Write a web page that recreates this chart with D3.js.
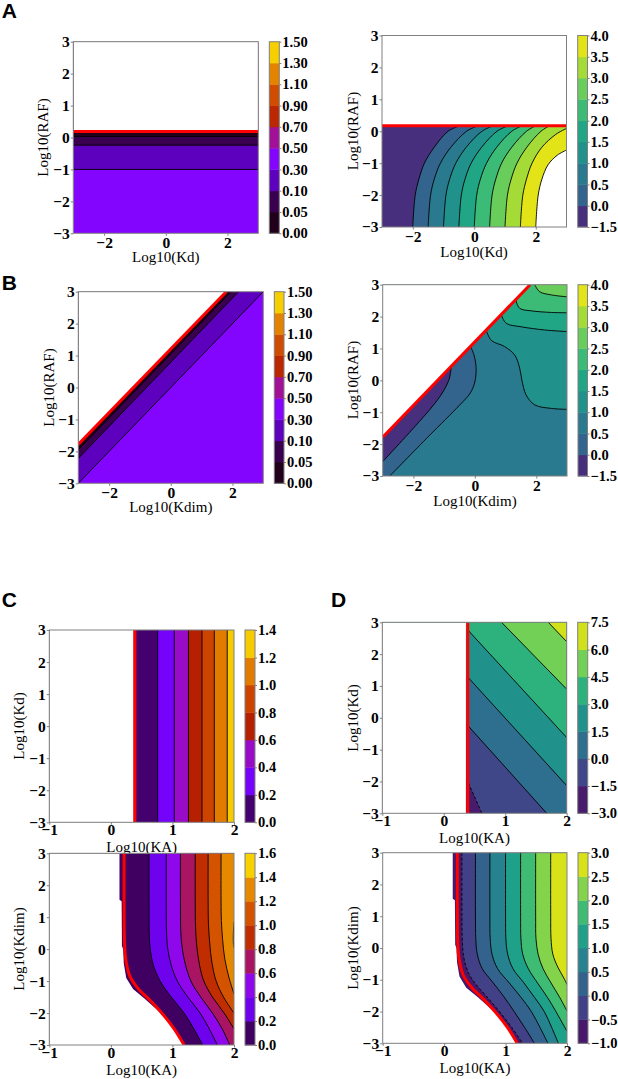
<!DOCTYPE html>
<html><head><meta charset="utf-8">
<script src="https://cdn.jsdelivr.net/npm/d3@7"></script>
<style>body{margin:0;background:#fff}</style>
</head><body><script>
// ================= DATA =================
// contour levels (also colorbar tick labels)
const levelsGnuA = [0.00,0.05,0.10,0.30,0.50,0.70,0.90,1.10,1.30,1.50];
const levelsVirA = [-1.5,0.0,0.5,1.0,1.5,2.0,2.5,3.0,3.5,4.0];
const levelsGnuC1 = [0.0,0.2,0.4,0.6,0.8,1.0,1.2,1.4];
const levelsGnuC2 = [0.0,0.2,0.4,0.6,0.8,1.0,1.2,1.4,1.6];
const levelsVirD1 = [-3.0,-1.5,0.0,1.5,3.0,4.5,6.0,7.5];
const levelsVirD2 = [-1.0,-0.5,0.0,0.5,1.0,1.5,2.0,2.5,3.0];
// axis ticks
const ticksLog = [-3,-2,-1,0,1,2,3];
const ticksKdX = [-2,0,2];
const ticksKA = [-1,0,1,2];

// ---- Panel A left: Log10(Kd) x Log10(RAF), horizontal contours (levels 0.30, 0.10, 0.05)
const aLeftLines = [ [[-3,-1.0],[3,-1.0]], [[-3,-0.24],[3,-0.24]], [[-3,0.03],[3,0.03]] ];
const aLeftRed = [[-3,0.19],[3,0.19]];

// ---- Panel A right: contour lines of levels 0.0 ... 4.0
const aRightLines = [
 [[-2.0,-3],[-1.92,-2],[-1.8,-1.5],[-1.62,-1],[-1.3,-0.5],[-0.85,0],[-0.47,0.17]],
 [[-1.5,-3],[-1.42,-2],[-1.3,-1.5],[-1.1,-1],[-0.76,-0.5],[-0.25,0],[0.12,0.17]],
 [[-1.0,-3],[-0.92,-2],[-0.8,-1.5],[-0.6,-1],[-0.26,-0.5],[0.25,0],[0.61,0.17]],
 [[-0.5,-3],[-0.42,-2],[-0.3,-1.5],[-0.1,-1],[0.24,-0.5],[0.74,0],[1.10,0.17]],
 [[0.0,-3],[0.08,-2],[0.2,-1.5],[0.4,-1],[0.73,-0.5],[1.22,0],[1.55,0.17]],
 [[0.5,-3],[0.58,-2],[0.7,-1.5],[0.89,-1],[1.22,-0.5],[1.7,0],[2.0,0.17]],
 [[1.0,-3],[1.08,-2],[1.2,-1.5],[1.39,-1],[1.71,-0.5],[2.17,0],[2.45,0.17]],
 [[1.5,-3],[1.58,-2],[1.7,-1.5],[1.88,-1],[2.2,-0.5],[2.65,-0.1],[3.0,0.09]],
 [[2.0,-3],[2.08,-2],[2.2,-1.5],[2.4,-1.05],[2.7,-0.75],[3.0,-0.59]]
];
const aRightRed = [[-3,0.17],[3,0.17]];

// ---- Panel B left: diagonal contours (levels 0.30, 0.10, 0.05)
const bLeftLines = [ [[-3,-3],[3,3]], [[-3,-2.22],[2.2,3]], [[-3,-1.95],[1.95,3]] ];
const bRed = [[-3,-1.78],[1.8,3]];

// ---- Panel B right: contour lines of levels 0.0 ... 2.5
const bRightL0 = [[-3,-2.55],[-2,-1.5],[-1.3,-0.72],[-1.0,-0.3],[-0.85,0.0],[-0.79,0.25],[-0.77,0.43]];
const bRightL1 = [[-2.77,-3],[-1.5,-1.75],[-0.5,-0.78],[-0.15,-0.4],[0.0,-0.05],[0.04,0.4],[-0.03,0.8],[-0.14,1.06]];
const bRightL2 = [[0.37,1.57],[0.54,1.25],[0.97,1.06],[1.3,0.79],[1.46,0.38],[1.53,0.01],[1.67,-0.46],[1.95,-0.77],[2.49,-0.88],[3.0,-0.91]];
const bRightL3 = [[0.86,2.06],[1.02,1.79],[1.51,1.68],[2.27,1.58],[3.0,1.53]];
const bRightL4 = [[1.33,2.53],[1.46,2.26],[1.84,2.18],[2.49,2.13],[3.0,2.12]];
const bRightL5 = [[1.95,3.0],[2.11,2.78],[2.49,2.68],[3.0,2.62]];

// ---- Panel C top: vertical contours (levels 0.2 ... 1.2), red boundary
const cTopLineX = [0.76,1.03,1.26,1.48,1.68,1.89];
const cTopEdgeX = 0.37;
const cTopRedX = 0.39;

// ---- Panel D top: straight contours (levels -1.5, 0.0, 1.5, 3.0, 4.5, 6.0)
const dTopLines = [
 [[0.40,-2.04],[0.62,-3.0]],
 [[0.40,-0.26],[1.675,-3.0]],
 [[0.40,1.26],[2.0,-2.13]],
 [[0.40,2.74],[2.0,-0.62]],
 [[0.94,3.0],[2.0,0.9]],
 [[1.70,3.0],[2.0,2.39]]
];
const dTopEdgeX = 0.36;
const dTopRedX = 0.39;

// ---- Bottom row (Log10(KA) x Log10(Kdim)): shared valid-region edge and red boundary
const kdimEdge = [[0.14,3],[0.14,1.55],[0.175,1.5],[0.18,0.1],[0.2,0.0],[0.21,-0.45],[0.25,-0.9],[0.36,-1.25],[0.55,-1.55],[0.75,-1.9],[0.95,-2.3],[1.12,-2.7],[1.18,-3]];
const kdimRed = [[0.215,3],[0.215,1],[0.22,0.3],[0.24,-0.3],[0.31,-0.85],[0.45,-1.25],[0.62,-1.57],[0.84,-2.03],[1.03,-2.5],[1.19,-3]];

// ---- Panel C bottom: contour lines of levels 0.2 ... 1.4
const cBotLines = [
 [[0.62,3],[0.62,1.5],[0.625,0.4],[0.64,0],[0.69,-0.5],[0.8,-1],[0.98,-1.5],[1.19,-2],[1.35,-2.5],[1.49,-3]],
 [[0.9,3],[0.9,1.5],[0.905,0.5],[0.925,0],[0.98,-0.5],[1.08,-1],[1.25,-1.5],[1.45,-2],[1.6,-2.5],[1.73,-3]],
 [[1.13,3],[1.13,1.5],[1.135,0.6],[1.155,0.1],[1.2,-0.4],[1.3,-1],[1.46,-1.5],[1.65,-2],[1.81,-2.5],[1.93,-3]],
 [[1.37,3],[1.37,1.5],[1.375,0.7],[1.395,0.1],[1.44,-0.5],[1.51,-1],[1.65,-1.5],[1.84,-2],[2.0,-2.5]],
 [[1.58,3],[1.58,1.5],[1.585,0.8],[1.605,0.2],[1.64,-0.4],[1.71,-1],[1.83,-1.5],[2.0,-2.0]],
 [[1.79,3],[1.79,1.5],[1.795,0.9],[1.815,0.3],[1.85,-0.3],[1.92,-0.9],[2.0,-1.4]],
 [[2.0,0.85],[1.99,0.5],[1.99,0.2],[2.0,0.05]]
];

// ---- Panel D bottom: contour lines of levels -0.5 ... 2.5
const dBotLines = [
 [[0.29,3],[0.29,1],[0.295,0.3],[0.32,-0.3],[0.4,-0.8],[0.52,-1.15],[0.68,-1.5],[0.9,-2],[1.1,-2.5],[1.28,-3]],
 [[0.51,3],[0.51,1],[0.515,0.3],[0.54,-0.2],[0.62,-0.65],[0.78,-1.05],[0.96,-1.5],[1.14,-2],[1.31,-2.5],[1.47,-3]],
 [[0.745,3],[0.745,1],[0.75,0.3],[0.78,-0.2],[0.87,-0.65],[1.06,-1.1],[1.25,-1.55],[1.42,-2],[1.56,-2.5],[1.69,-3]],
 [[1.0,3],[1.0,1],[1.005,0.3],[1.035,-0.2],[1.12,-0.65],[1.3,-1.1],[1.47,-1.55],[1.63,-2],[1.75,-2.5],[1.86,-3]],
 [[1.245,3],[1.245,1],[1.25,0.3],[1.28,-0.2],[1.37,-0.65],[1.52,-1.1],[1.68,-1.55],[1.82,-2],[1.95,-2.45],[2.0,-2.62]],
 [[1.49,3],[1.49,1],[1.495,0.3],[1.53,-0.2],[1.61,-0.65],[1.74,-1.1],[1.88,-1.55],[2.0,-1.98]],
 [[1.735,3],[1.735,1],[1.74,0.3],[1.77,-0.2],[1.85,-0.6],[1.95,-0.95],[2.0,-1.15]]
];

// ================= DRAWING =================
const W = 618, H = 1079;
const svg = d3.select("body").append("svg").attr("width", W).attr("height", H);
const SERIF = "'Liberation Serif','Times New Roman',serif";
let clipN = 0;

function gnuplot(t){ // matplotlib 'gnuplot' colormap
  const r = Math.sqrt(t), g = t*t*t, b = Math.max(0, Math.sin(2*Math.PI*t));
  return d3.rgb(255*r, 255*g, 255*b).formatHex();
}
function bandColors(levels, cmap){
  const lo = levels[0], hi = levels[levels.length-1];
  return d3.range(levels.length-1).map(i => cmap(((levels[i]+levels[i+1])/2 - lo)/(hi-lo)));
}
const vert = (x, yd) => [[x, yd[1]], [x, yd[0]]];

function panel(o){
  const g = svg.append("g");
  const xs = d3.scaleLinear().domain(o.xd).range([o.x0, o.x1]);
  const ys = d3.scaleLinear().domain(o.yd).range([o.y1, o.y0]);
  const colors = bandColors(o.levels, o.cmap);
  const id = "clip" + (clipN++);
  svg.append("clipPath").attr("id", id).append("rect")
    .attr("x", o.x0).attr("y", o.y0).attr("width", o.x1-o.x0).attr("height", o.y1-o.y0);
  const pg = g.append("g").attr("clip-path", `url(#${id})`);
  const corner = {tl:[o.xd[0],o.yd[1]], tr:[o.xd[1],o.yd[1]], bl:[o.xd[0],o.yd[0]], br:[o.xd[1],o.yd[0]]};
  const smooth = d3.curveCatmullRom.alpha(0.5);
  const lineGen = c => d3.line().x(d=>xs(d[0])).y(d=>ys(d[1])).curve(c || smooth);
  const region = (pts, close, c) => lineGen(c)(pts) +
      close.map(k => `L${xs(corner[k][0])},${ys(corner[k][1])}`).join("") + "Z";

  pg.append("rect").attr("x", o.x0).attr("y", o.y0).attr("width", o.x1-o.x0).attr("height", o.y1-o.y0)
    .attr("fill", colors[o.base]);
  o.fills.forEach(f => {
    pg.append("path").attr("d", region(f.pts, f.close, f.curve))
      .attr("fill", f.band == null ? "#ffffff" : colors[f.band]).attr("stroke", "none");
  });
  o.fills.filter(f => f.line).forEach(f => {
    pg.append("path").attr("d", lineGen(f.curve)(f.pts)).attr("fill", "none")
      .attr("stroke", "#000").attr("stroke-width", 0.9)
      .attr("stroke-dasharray", f.dash ? "3,2" : null);
  });
  if (o.red) pg.append("path").attr("d", lineGen(o.redCurve)(o.red)).attr("fill", "none")
      .attr("stroke", "#ff0000").attr("stroke-width", 3);
  g.append("rect").attr("x", o.x0).attr("y", o.y0).attr("width", o.x1-o.x0).attr("height", o.y1-o.y0)
    .attr("fill", "none").attr("stroke", "#808080").attr("stroke-width", 1);

  const styleAxis = size => a => {
    a.select(".domain").remove();
    a.attr("font-family", null).attr("font-size", null);
    a.selectAll("line").attr("stroke", "#808080");
    a.selectAll("text").style("font-family", SERIF).style("font-weight", "bold")
      .style("font-size", size + "px").attr("fill", "#000");
  };
  g.append("g").attr("transform", `translate(0,${o.y1})`)
    .call(d3.axisBottom(xs).tickValues(o.xt).tickSize(2.5).tickPadding(o.xpad).tickFormat(d3.format("d")))
    .call(styleAxis(15.5));
  g.append("g").attr("transform", `translate(${o.x0},0)`)
    .call(d3.axisLeft(ys).tickValues(ticksLog).tickSize(2.5).tickPadding(1).tickFormat(d3.format("d")))
    .call(styleAxis(15.5));

  g.append("text").attr("x", o.xl[0]).attr("y", o.xl[1]).attr("text-anchor", "middle")
    .style("font-family", SERIF).style("font-size", "15px").text(o.xlabel);
  g.append("text").attr("transform", `translate(${o.yl[0]},${o.yl[1]}) rotate(-90)`)
    .attr("text-anchor", "middle").attr("dy", "0.35em")
    .style("font-family", SERIF).style("font-size", "15px").text(o.ylabel);

  // colorbar (uniform spacing like matplotlib contourf colorbars)
  const cb = o.cb, n = colors.length;
  const cs = d3.scaleLinear().domain([0, n]).range([cb[3], cb[2]]);
  colors.forEach((c, i) => g.append("rect").attr("x", cb[0]).attr("y", cs(i+1))
    .attr("width", cb[1]-cb[0]).attr("height", cs(i)-cs(i+1)+0.4).attr("fill", c));
  g.append("rect").attr("x", cb[0]).attr("y", cb[2]).attr("width", cb[1]-cb[0]).attr("height", cb[3]-cb[2])
    .attr("fill", "none").attr("stroke", "#808080").attr("stroke-width", 1);
  g.append("g").attr("transform", `translate(${cb[1]},0)`)
    .call(d3.axisRight(cs).tickValues(d3.range(n+1)).tickSize(2).tickPadding(1)
      .tickFormat(i => d3.format(o.cbfmt)(o.levels[i])))
    .call(styleAxis(14.5));
}

const kd6 = [-3, 3], ka = [-1, 2];

// ---- A left
panel({x0:73.3, x1:258.3, y0:41.7, y1:233.3, xd:kd6, yd:kd6, xt:ticksKdX, xpad:1.5,
  levels:levelsGnuA, cmap:gnuplot, cbfmt:".2f", cb:[269.3,279.3,41.7,233.3], base:3,
  fills:[
    {pts:aLeftLines[0], close:["tr","tl"], band:2, line:true},
    {pts:aLeftLines[1], close:["tr","tl"], band:1, line:true},
    {pts:aLeftLines[2], close:["tr","tl"], band:0, line:true},
    {pts:aLeftRed, close:["tr","tl"], band:null}
  ], red:aLeftRed,
  xlabel:"Log10(Kd)", ylabel:"Log10(RAF)", xl:[165.8,262], yl:[43,137.5]});

// ---- A right
panel({x0:382, x1:566.5, y0:35.5, y1:227, xd:kd6, yd:kd6, xt:ticksKdX, xpad:1.5,
  levels:levelsVirA, cmap:d3.interpolateViridis, cbfmt:".1f", cb:[577.7,587.5,35.5,227], base:0,
  fills: aRightLines.map((p, i) => ({pts:p, close:["tr","br"], band: i < 8 ? i+1 : null, line:true}))
    .concat([{pts:aRightRed, close:["tr","tl"], band:null}]),
  red:aRightRed,
  xlabel:"Log10(Kd)", ylabel:"Log10(RAF)", xl:[474,257], yl:[353,131]});

// ---- B left
panel({x0:78.3, x1:263.3, y0:291.7, y1:483.3, xd:kd6, yd:kd6, xt:ticksKdX, xpad:1.2,
  levels:levelsGnuA, cmap:gnuplot, cbfmt:".2f", cb:[274.3,284,291.7,483.3], base:3,
  fills:[
    {pts:bLeftLines[0], close:["tl"], band:2, line:true},
    {pts:bLeftLines[1], close:["tl"], band:1, line:true},
    {pts:bLeftLines[2], close:["tl"], band:0, line:true},
    {pts:bRed, close:["tl"], band:null}
  ], red:bRed,
  xlabel:"Log10(Kdim)", ylabel:"Log10(RAF)", xl:[170.8,512], yl:[49,387.5]});

// ---- B right
panel({x0:382.7, x1:567, y0:284.7, y1:476, xd:kd6, yd:kd6, xt:ticksKdX, xpad:1.8,
  levels:levelsVirA, cmap:d3.interpolateViridis, cbfmt:".1f", cb:[578,587.5,284.7,476], base:0,
  fills:[
    {pts:bRightL0, close:["tl","tr","br","bl"], band:1, line:true},
    {pts:bRightL1, close:["tl","tr","br"], band:2, line:true},
    {pts:bRightL2, close:["tr","tl"], band:3, line:true},
    {pts:bRightL3, close:["tr","tl"], band:4, line:true},
    {pts:bRightL4, close:["tr","tl"], band:5, line:true},
    {pts:bRightL5, close:["tr"], band:6, line:true},
    {pts:bRed, close:["tl"], band:null}
  ], red:bRed,
  xlabel:"Log10(Kdim)", ylabel:"Log10(RAF)", xl:[475,505.5], yl:[353,380]});

// ---- C top
panel({x0:49.3, x1:234, y0:630, y1:822.3, xd:ka, yd:kd6, xt:ticksKA, xpad:-0.5,
  levels:levelsGnuC1, cmap:gnuplot, cbfmt:".1f", cb:[245,255,630,822.3], base:0,
  fills: cTopLineX.map((x, i) => ({pts:vert(x, kd6), close:["br","tr"], band:i+1, line:true}))
    .concat([{pts:vert(cTopEdgeX, kd6), close:["bl","tl"], band:null}]),
  red:vert(cTopRedX, kd6),
  xlabel:"Log10(KA)", ylabel:"Log10(Kd)", xl:[141.7,852], yl:[19,726]});

// ---- D top
panel({x0:382.3, x1:566.7, y0:622.3, y1:813.3, xd:ka, yd:kd6, xt:ticksKA, xpad:-1,
  levels:levelsVirD1, cmap:d3.interpolateViridis, cbfmt:".1f", cb:[577.7,587.7,622.3,813.3], base:0,
  fills:[
    {pts:dTopLines[0], close:["br","tr","tl"], band:1, line:true, dash:true},
    {pts:dTopLines[1], close:["br","tr","tl"], band:2, line:true},
    {pts:dTopLines[2], close:["tr","tl"], band:3, line:true},
    {pts:dTopLines[3], close:["tr","tl"], band:4, line:true},
    {pts:dTopLines[4], close:["tr"], band:5, line:true},
    {pts:dTopLines[5], close:["tr"], band:6, line:true},
    {pts:vert(dTopEdgeX, kd6), close:["bl","tl"], band:null}
  ], red:vert(dTopRedX, kd6),
  xlabel:"Log10(KA)", ylabel:"Log10(Kd)", xl:[474.5,843], yl:[353,718]});

// ---- C bottom
panel({x0:49.3, x1:234, y0:853.3, y1:1045, xd:ka, yd:kd6, xt:ticksKA, xpad:-0.5,
  levels:levelsGnuC2, cmap:gnuplot, cbfmt:".1f", cb:[245,255,853.3,1045], base:0,
  fills: cBotLines.map((p, i) => ({pts:p, close:["br","tr"], band:i+1, line:true}))
    .concat([{pts:kdimEdge, close:["bl","tl"], band:null, curve:d3.curveLinear}]),
  red:kdimRed,
  xlabel:"Log10(KA)", ylabel:"Log10(Kdim)", xl:[141.7,1075], yl:[19,949]});

// ---- D bottom
panel({x0:382.7, x1:567, y0:852.7, y1:1043.3, xd:ka, yd:kd6, xt:ticksKA, xpad:-1,
  levels:levelsVirD2, cmap:d3.interpolateViridis, cbfmt:".1f", cb:[578,588,852.7,1043.3], base:0,
  fills: dBotLines.map((p, i) => ({pts:p, close:["br","tr"], band:i+1, line:true, dash:i===0}))
    .concat([{pts:kdimEdge, close:["bl","tl"], band:null, curve:d3.curveLinear}]),
  red:kdimRed,
  xlabel:"Log10(KA)", ylabel:"Log10(Kdim)", xl:[475,1073], yl:[353,948]});

// panel letters
[["A",1.7,18.3],["B",1.7,290],["C",1.7,607],["D",331,607]].forEach(([t,x,y]) =>
  svg.append("text").attr("x", x).attr("y", y)
    .style("font-family", "'Liberation Sans',Arial,sans-serif")
    .style("font-weight", "bold").style("font-size", "21px").text(t));
</script></body></html>
